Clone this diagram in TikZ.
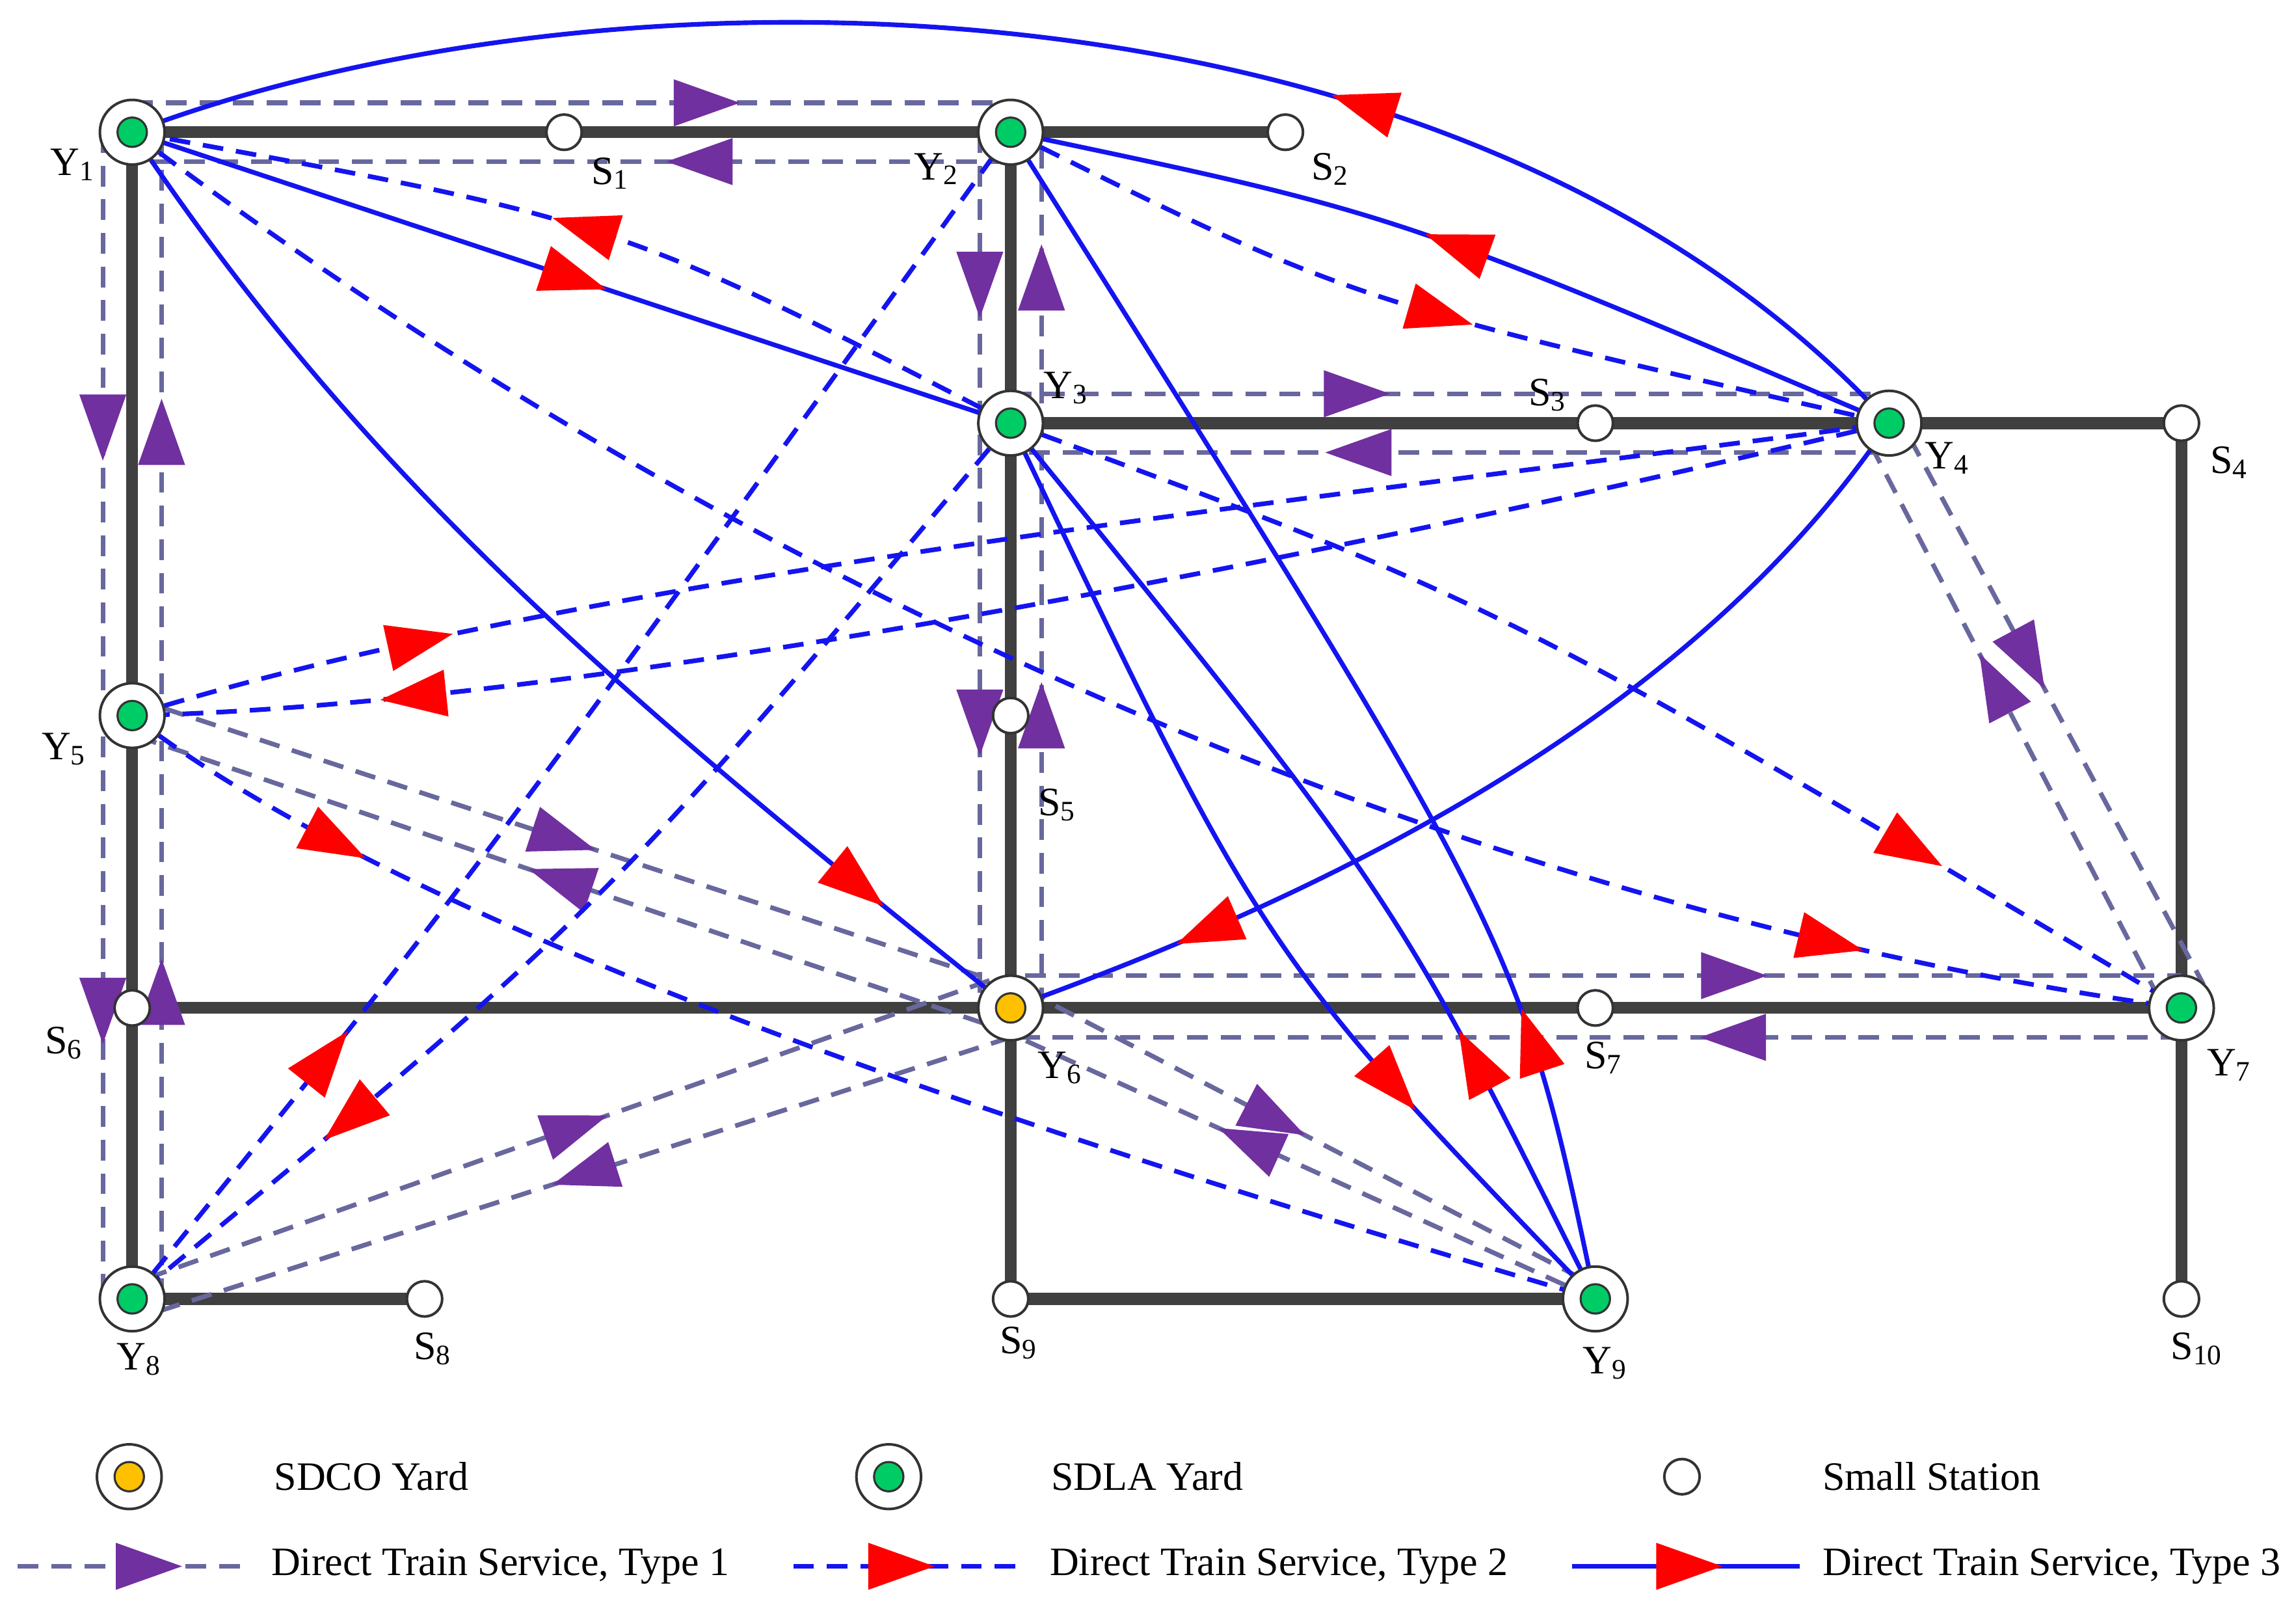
\documentclass[tikz,border=0pt]{standalone}
\usepackage{fontspec}
\setmainfont{Liberation Serif}
\usetikzlibrary{calc,decorations.markings}
\definecolor{trk}{RGB}{64,64,64}
\definecolor{gl}{RGB}{104,104,158}
\definecolor{pu}{RGB}{112,48,160}
\definecolor{bl}{RGB}{20,20,240}
\definecolor{yg}{RGB}{0,204,102}
\definecolor{yo}{RGB}{255,192,0}
\begin{document}
\begin{tikzpicture}[x=0.01cm,y=-0.01cm,
  yard/.style={circle,draw=black!80,fill=white,minimum size=0.44cm,inner sep=0pt,line width=0.5pt},
  ss/.style={circle,draw=black!80,fill=white,minimum size=0.24cm,inner sep=0pt,line width=0.5pt},
  track/.style={trk,line width=2.3pt},
  t1/.style={gl,dashed,line width=0.9pt,dash pattern=on 4pt off 2.5pt},
  t2/.style={bl,dashed,line width=0.9pt,dash pattern=on 4pt off 2.5pt},
  t3/.style={bl,line width=0.9pt},
  pa/.style={postaction={decorate,decoration={markings,mark=at position #1 with {\fill[pu] (0.25cm,0)--(-0.2cm,0.16cm)--(-0.2cm,-0.16cm)--cycle;}}}},
  ra/.style={postaction={decorate,decoration={markings,mark=at position #1 with {\fill[red] (0.25cm,0)--(-0.2cm,0.16cm)--(-0.2cm,-0.16cm)--cycle;}}}},
  lab/.style={font=\fontsize{7.8}{9}\selectfont,inner sep=0pt}
]
\useasboundingbox (0,0) rectangle (1563,1092);
% coordinates
\coordinate (Y1) at (90,90); \coordinate (S1) at (384,90); \coordinate (Y2) at (688,90); \coordinate (S2) at (875,90);
\coordinate (Y3) at (688,288); \coordinate (S3) at (1086,288); \coordinate (Y4) at (1286,288); \coordinate (S4) at (1485,288);
\coordinate (Y5) at (90,487); \coordinate (S5) at (688,487);
\coordinate (S6) at (90,686); \coordinate (Y6) at (688,686); \coordinate (S7) at (1086,686); \coordinate (Y7) at (1485,686);
\coordinate (Y8) at (90,884); \coordinate (S8) at (289,884); \coordinate (S9) at (688,884); \coordinate (Y9) at (1086,884); \coordinate (S10) at (1485,884);
% tracks
\draw[track] (Y1)--(S2); \draw[track] (Y1)--(Y8)--(S8); \draw[track] (Y2)--(S9)--(Y9);
\draw[track] (Y3)--(S4)--(S10); \draw[track] (S6)--(Y7);
% type 1
\draw[t1,pa=0.65] ($(Y1)+(0,-20)$)--($(Y2)+(0,-20)$);
\draw[t1,pa=0.35] ($(Y2)+(0,20)$)--($(Y1)+(0,20)$);
\draw[t1,pa=0.25,pa=0.75] ($(Y1)+(-20,0)$)--($(Y8)+(-20,0)$);
\draw[t1,pa=0.26,pa=0.74] ($(Y8)+(20,0)$)--($(Y1)+(20,0)$);
\draw[t1,pa=0.17,pa=0.67] ($(Y2)+(-21,0)$)--($(Y6)+(-21,0)$);
\draw[t1,pa=0.33,pa=0.83] ($(Y6)+(21,0)$)--($(Y2)+(21,0)$);
\draw[t1,pa=0.39] ($(Y3)+(0,-20)$)--($(Y4)+(0,-20)$);
\draw[t1,pa=0.6] ($(Y4)+(0,20)$)--($(Y3)+(0,20)$);
\draw[t1,pa=0.4] ($(Y4)+(14,10)$)--($(Y7)+(15,-16)$);
\draw[t1,pa=0.56] ($(Y7)+(-15,-6)$)--($(Y4)+(-14,12)$);
\draw[t1,pa=0.61] ($(Y6)+(10,-22)$)--($(Y7)+(0,-22)$);
\draw[t1,pa=0.38] ($(Y7)+(0,20)$)--($(Y6)+(0,20)$);
\draw[t1,pa=0.285,pa=0.77] ($(Y5)+(0,-12)$)--(700,675)--($(Y9)+(0,-9)$);
\draw[t1,pa=0.24,pa=0.71] (Y9)--(680,700)--($(Y5)+(0,13)$);
\draw[t1,pa=0.5] ($(Y8)+(10,-14)$)--($(Y6)+(-8,-21)$);
\draw[t1,pa=0.49] ($(Y6)+(0,20)$)--($(Y8)+(10,11)$);
% type 2
\draw[t2,ra=0.5] (Y3) .. controls (420,150) .. (Y1);
\draw[t2,ra=0.5] (Y2) .. controls (920,205) .. (Y4);
\draw[t2,ra=0.84] (Y1) .. controls (500,400) and (1000,620) .. (Y7);
\draw[t2,ra=0.76] (Y3) .. controls (1020,410) .. (Y7);
\draw[t2,ra=0.165] (Y5) .. controls (400,390) and (900,340) .. (Y4);
\draw[t2,ra=0.84] (Y4) .. controls (900,380) and (400,480) .. (Y5);
\draw[t2,ra=0.15] (Y5) .. controls (300,650) and (800,800) .. (Y9);
\draw[t2,ra=0.21] (Y8) .. controls (320,600) .. (Y2);
\draw[t2,ra=0.77] (Y3) .. controls (410,620) .. (Y8);
% type 3
\draw[t3,ra=0.5] (Y1)--(Y3);
\draw[t3,ra=0.5] (Y4) .. controls (950,145) .. (Y2);
\draw[t3,ra=0.33] (Y4) .. controls (1000,-25) and (420,-35) .. (Y1);
\draw[t3,ra=0.84] (Y1) .. controls (250,330) and (430,480) .. (Y6);
\draw[t3,ra=0.8] (Y4) .. controls (1150,490) and (900,610) .. (Y6);
\draw[t3,ra=0.72] (Y3) .. controls (860,650) .. (Y9);
\draw[t3,ra=0.25] (Y9) .. controls (950,610) .. (Y3);
\draw[t3,ra=0.2] (Y9) .. controls (1035,640) .. (Y2);
% stations
\foreach \n in {Y1,Y2,Y3,Y4,Y5,Y7,Y8,Y9} {\node[yard] (n\n) at (\n) {}; \fill[yg,draw=black!80,line width=0.4pt] (\n) circle (0.1cm);}
\node[yard] (nY6) at (Y6) {}; \fill[yo,draw=black!80,line width=0.4pt] (Y6) circle (0.1cm);
\foreach \n in {S1,S2,S3,S4,S5,S6,S7,S8,S9,S10} {\node[ss] (n\n) at (\n) {};}
% labels
\node[lab] (lY1) at (50,112) {Y\textsubscript{1}};
\node[lab] (lS1) at (416,118) {S\textsubscript{1}};
\node[lab] (lY2) at (638,115) {Y\textsubscript{2}};
\node[lab] (lS2) at (906,115) {S\textsubscript{2}};
\node[lab] (lY3) at (726,264) {Y\textsubscript{3}};
\node[lab] (lS3) at (1054,269) {S\textsubscript{3}};
\node[lab] (lY4) at (1326,312) {Y\textsubscript{4}};
\node[lab] (lS4) at (1518,315) {S\textsubscript{4}};
\node[lab] (lY5) at (44,510) {Y\textsubscript{5}};
\node[lab] (lS5) at (720,548) {S\textsubscript{5}};
\node[lab] (lS6) at (44,710) {S\textsubscript{6}};
\node[lab] (lY6) at (722,727) {Y\textsubscript{6}};
\node[lab] (lS7) at (1092,720) {S\textsubscript{7}};
\node[lab] (lY7) at (1518,725) {Y\textsubscript{7}};
\node[lab] (lY8) at (95,925) {Y\textsubscript{8}};
\node[lab] (lS8) at (295,918) {S\textsubscript{8}};
\node[lab] (lS9) at (694,914) {S\textsubscript{9}};
\node[lab] (lY9) at (1093,928) {Y\textsubscript{9}};
\node[lab] (lS10) at (1496,918) {S\textsubscript{10}};
% legend
\node[yard] (g1) at (88,1005) {}; \fill[yo,draw=black!80,line width=0.4pt] (88,1005) circle (0.1cm);
\node[lab,anchor=west] (g1t) at (186,1005) {SDCO Yard};
\node[yard] (g2) at (605,1005) {}; \fill[yg,draw=black!80,line width=0.4pt] (605,1005) circle (0.1cm);
\node[lab,anchor=west] (g2t) at (715,1005) {SDLA Yard};
\node[ss] (g3) at (1145,1005) {};
\node[lab,anchor=west] (g3t) at (1240,1005) {Small Station};
\coordinate (a1) at (12,1066); \coordinate (a2) at (170,1066);
\draw[t1,pa=0.55] (a1)--(a2);
\node[lab,anchor=west] (l1) at (184,1066) {Direct Train Service, Type 1};
\coordinate (b1) at (540,1066); \coordinate (b2) at (698,1066);
\draw[t2,ra=0.45] (b1)--(b2);
\node[lab,anchor=west] (l2) at (714,1066) {Direct Train Service, Type 2};
\coordinate (c1) at (1070,1066); \coordinate (c2) at (1225,1066);
\draw[t3,ra=0.5] (c1)--(c2);
\node[lab,anchor=west] (l3) at (1240,1066) {Direct Train Service, Type 3};
\end{tikzpicture}
\end{document}
